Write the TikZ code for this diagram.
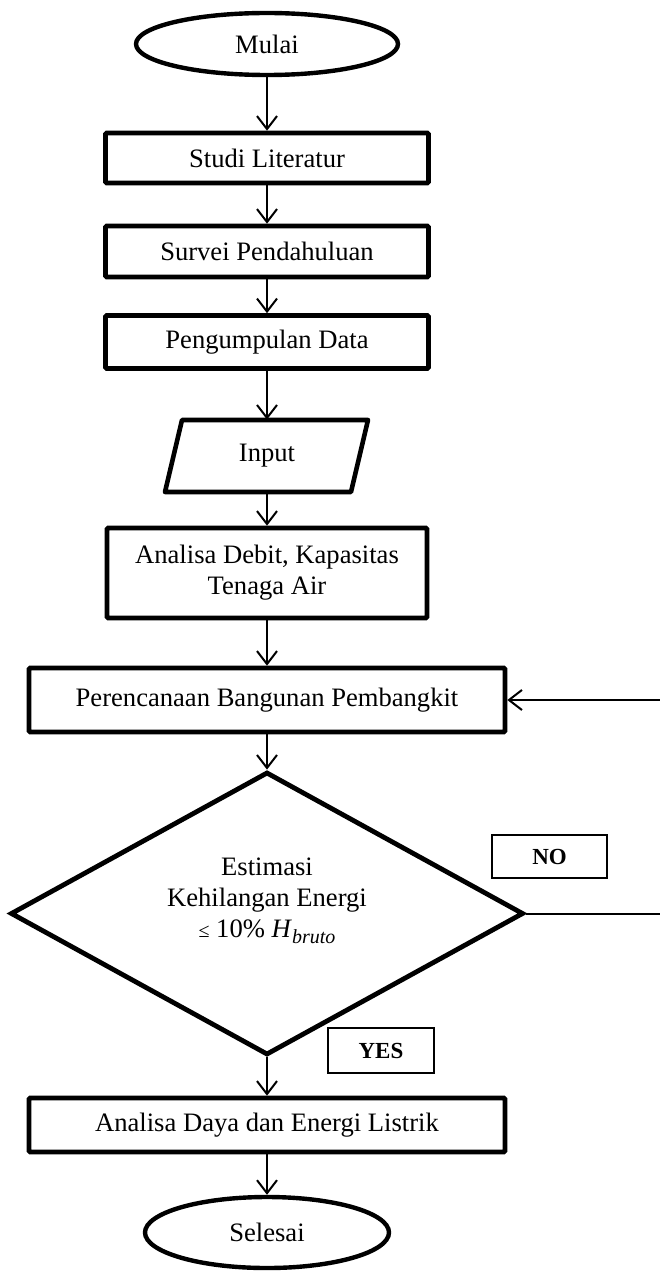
\documentclass[tikz,border=0pt]{standalone}
\usepackage{fontspec}
\setmainfont{Liberation Serif}
\usetikzlibrary{shapes.geometric,arrows.meta}
\tikzset{
  proc/.style={draw, line width=2.3pt, rectangle, rounded corners=0.6pt, align=center, inner sep=0pt, minimum width=161.5pt},
  term/.style={draw, ellipse, line width=2.2pt, inner sep=0pt},
  lbl/.style={draw, line width=0.6pt, rectangle, inner sep=0pt, font=\fontsize{11.5}{13}\selectfont\bfseries},
  flow/.style={-{Straight Barb[length=6.5pt,width=10pt,line width=1pt]}, line width=1pt},
}
\begin{document}
\begin{tikzpicture}[x=0.5pt,y=-0.5pt,font=\fontsize{13.3}{15.5}\selectfont]
\useasboundingbox (0,0) rectangle (659,1273);
% terminals and processes
\node[term, minimum width=131pt, minimum height=31pt] (mulai) at (267,44) {Mulai};
\node[proc, minimum height=25pt] (studi) at (267,158) {Studi Literatur};
\node[proc, minimum height=25.5pt] (survei) at (267,251.5) {Survei Pendahuluan};
\node[proc, minimum height=26.5pt] (kumpul) at (267,342) {Pengumpulan Data};
% input parallelogram
\coordinate (i1) at (165,492);
\coordinate (i2) at (182,420);
\coordinate (i3) at (368,420);
\coordinate (i4) at (351,492);
\draw[line width=2.3pt, line join=round] (i1) -- (i2) -- (i3) -- (i4) -- cycle;
\node[inner sep=0pt, minimum height=36pt, minimum width=20pt] (input) at (267,456) {Input};
\node[proc, minimum width=160pt, minimum height=45pt] (debit) at (267,573) {Analisa Debit, Kapasitas\\Tenaga Air};
\node[proc, minimum width=238pt, minimum height=32pt] (plan) at (267,700) {Perencanaan Bangunan Pembangkit};
% decision
\node[draw, diamond, aspect=1.81, line width=2.4pt, inner sep=0pt, minimum width=256.5pt, minimum height=141.5pt] (dec) at (267,913.5) {};
\node[align=center, inner sep=0pt] (dtext) at (267,901) {Estimasi\\Kehilangan Energi\\{\fontsize{10}{12}\selectfont ≤} 10\% \textit{H}\raisebox{-0.45ex}{\fontsize{10}{12}\selectfont\textit{bruto}}};
\node[lbl, minimum width=57.5pt, minimum height=21.5pt] (no) at (549.5,856.5) {NO};
\node[lbl, minimum width=53pt, minimum height=22.5pt] (yes) at (381,1050.5) {YES};
\node[proc, minimum width=238pt, minimum height=27pt] (daya) at (267,1125) {Analisa Daya dan Energi Listrik};
\node[term, minimum width=122pt, minimum height=35.5pt] (selesai) at (267,1232.5) {Selesai};
% connectors
\coordinate (loop) at (670,913.5);
\draw[flow] (mulai.south) -- (studi.north);
\draw[flow] (studi.south) -- (survei.north);
\draw[flow] (survei.south) -- (kumpul.north);
\draw[flow] (kumpul.south) -- (input.north);
\draw[flow] (input.south) -- (debit.north);
\draw[flow] (debit.south) -- (plan.north);
\draw[flow] (plan.south) -- (dec.north);
\draw[flow] (dec.south) -- (daya.north);
\draw[flow] (daya.south) -- (selesai.north);
\draw[flow] (dec.east) -- (loop) |- (plan.east);
\end{tikzpicture}
\end{document}
